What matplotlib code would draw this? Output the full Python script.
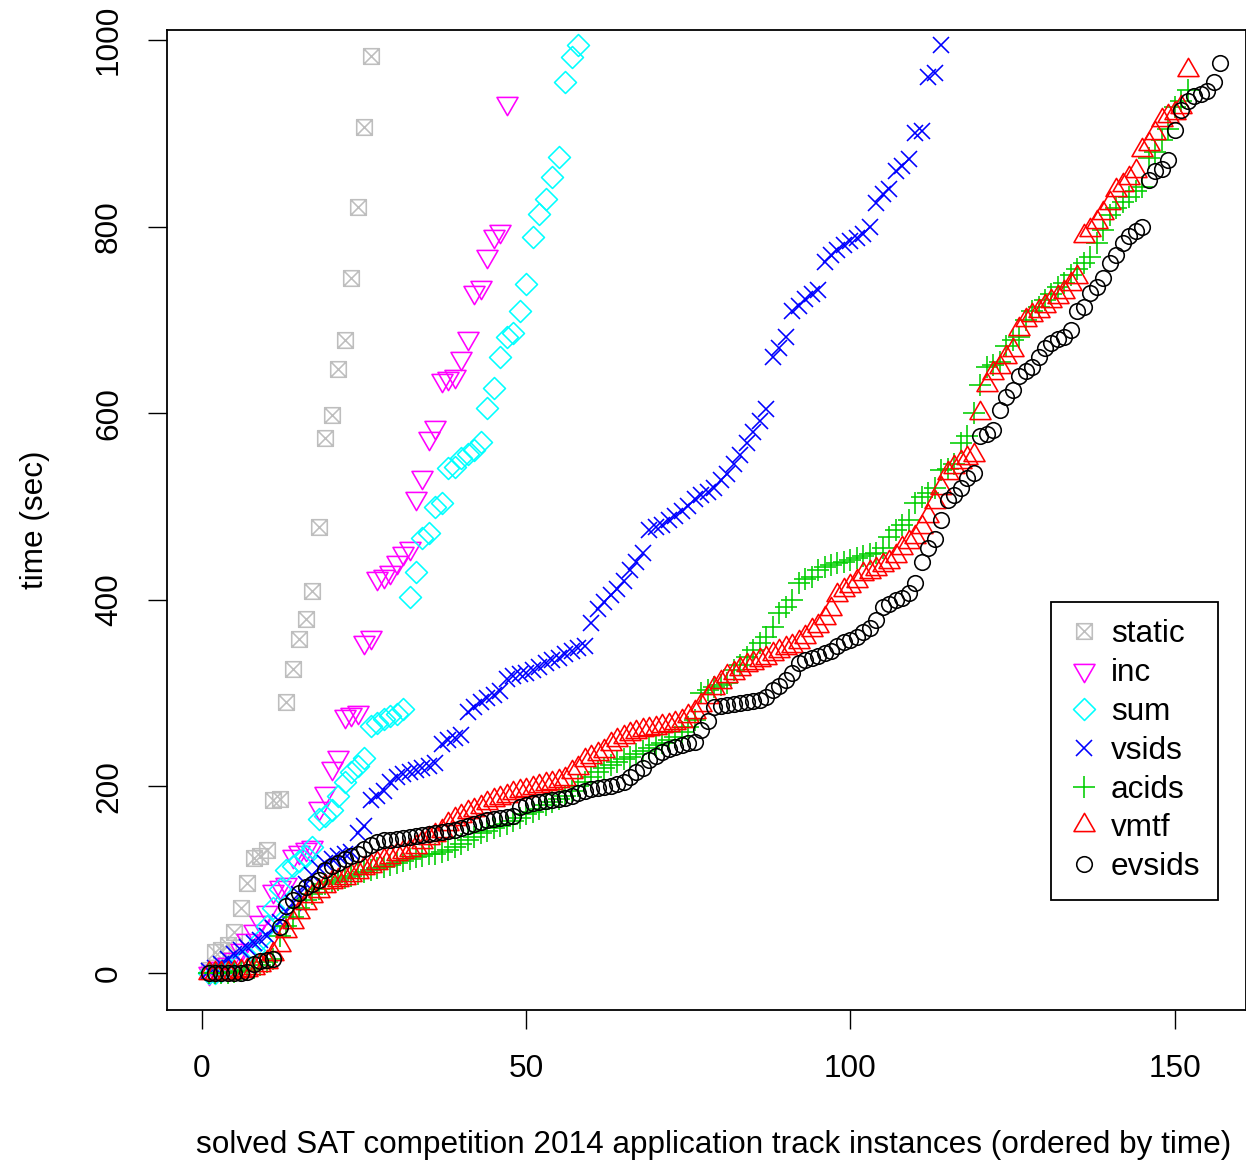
import matplotlib
matplotlib.use("Agg")
import matplotlib.pyplot as plt
import numpy as np
from matplotlib.path import Path

# ---------------- data (sorted solve times, seconds) ----------------
static = [3, 22, 25, 30, 44, 70, 96, 123, 125, 132, 185, 186, 290, 326, 358, 379,
          409, 478, 573, 598, 647, 678, 745, 821, 907, 983]

inc = [0, 2, 5, 10, 15, 25, 35, 45, 55, 65, 88, 92, 95, 125, 130, 133, 135, 177,
       193, 220, 232, 275, 278, 280, 355, 360, 423, 425, 430, 440, 450, 455, 509,
       532, 573, 585, 636, 638, 640, 659, 681, 730, 735, 768, 790, 795, 932]

sum_ = [0, 0, 2, 5, 8, 12, 18, 25, 35, 50, 70, 90, 110, 115, 120, 125, 135, 165,
        168, 175, 190, 205, 215, 222, 230, 265, 268, 272, 275, 278, 283, 403, 430,
        466, 472, 499, 504, 541, 542, 552, 556, 560, 569, 606, 627, 660, 682, 686,
        709, 738, 789, 813, 830, 853, 875, 955, 982, 995]

vsids = [2, 5, 10, 15, 20, 25, 28, 32, 35, 40, 48, 55, 65, 75, 85, 95, 105, 112,
         118, 122, 125, 128, 130, 150, 157, 185, 190, 195, 205, 210, 213, 215, 218,
         220, 222, 225, 245, 250, 252, 255, 280, 285, 290, 295, 298, 302, 315, 318,
         320, 322, 325, 328, 332, 335, 338, 342, 345, 348, 350, 375, 390, 398, 405,
         412, 420, 432, 440, 450, 475, 478, 480, 485, 490, 495, 500, 508, 512, 515,
         520, 528, 535, 545, 555, 568, 580, 592, 605, 660, 670, 682, 710, 715, 722,
         728, 732, 762, 770, 775, 780, 785, 788, 792, 800, 825, 835, 840, 860, 865,
         872, 900, 902, 960, 965, 995]

acids = [0, 0, 0, 0, 1, 2, 3, 5, 8, 12, 15, 40, 50, 60, 70, 78, 85, 90, 95, 98,
         100, 102, 104, 106, 108, 110, 112, 114, 116, 118, 120, 122, 124, 125, 127,
         128, 130, 132, 135, 138, 142, 146, 150, 152, 155, 158, 160, 163, 166, 170,
         173, 176, 180, 183, 186, 190, 195, 200, 205, 210, 215, 220, 223, 226, 229,
         232, 235, 238, 241, 244, 247, 250, 253, 258, 264, 271, 300, 303, 306, 309,
         311, 325, 330, 339, 346, 354, 360, 371, 386, 392, 400, 418, 422, 424, 432,
         435, 437, 439, 441, 443, 445, 447, 449, 450, 456, 467, 475, 480, 486, 504,
         510, 514, 520, 539, 540, 545, 568, 575, 600, 630, 650, 652, 655, 672, 678,
         682, 700, 710, 714, 721, 728, 735, 740, 748, 755, 761, 767, 782, 796, 812,
         820, 826, 832, 838, 842, 874, 880, 893, 905, 928, 935, 946]

vmtf = [0, 0, 0, 0, 1, 2, 3, 5, 8, 12, 20, 30, 45, 55, 65, 75, 82, 88, 93, 97,
        100, 102, 105, 108, 112, 115, 118, 121, 124, 127, 130, 132, 135, 140, 145,
        148, 152, 160, 165, 168, 172, 175, 178, 182, 185, 188, 190, 193, 195, 196,
        198, 200, 202, 204, 206, 208, 215, 220, 228, 232, 235, 238, 245, 250, 253,
        256, 258, 260, 262, 263, 265, 266, 268, 270, 275, 280, 287, 296, 305, 312,
        318, 322, 326, 330, 332, 335, 338, 342, 345, 348, 350, 355, 360, 368, 372,
        380, 390, 405, 410, 415, 420, 428, 430, 433, 437, 440, 447, 455, 462, 467,
        478, 490, 505, 520, 536, 542, 548, 552, 555, 600, 630, 643, 650, 660, 668,
        690, 700, 705, 710, 715, 720, 725, 730, 738, 746, 790, 796, 805, 815, 825,
        839, 845, 852, 860, 882, 888, 900, 914, 918, 922, 928, 968]

evsids = [0, 0, 0, 0, 0, 0, 1, 10, 13, 14, 15, 49, 72, 78, 86, 92, 95, 100, 110,
          115, 118, 122, 125, 128, 133, 137, 140, 142, 143, 144, 145, 146, 147, 148,
          149, 150, 151, 152, 153, 155, 158, 160, 162, 164, 165, 166, 167, 168, 178,
          180, 182, 183, 184, 185, 186, 188, 190, 193, 195, 197, 198, 199, 200, 202,
          205, 210, 215, 220, 228, 233, 237, 240, 242, 244, 246, 248, 260, 270, 285,
          286, 287, 288, 289, 290, 291, 293, 296, 303, 308, 314, 322, 332, 335, 338,
          340, 343, 345, 350, 355, 357, 360, 365, 370, 378, 392, 396, 400, 402, 407,
          418, 440, 455, 465, 486, 507, 512, 520, 530, 536, 575, 578, 582, 603, 617,
          625, 640, 645, 650, 660, 670, 675, 680, 682, 689, 710, 714, 729, 735, 745,
          761, 770, 782, 790, 795, 800, 850, 860, 862, 871, 903, 925, 935, 940, 942,
          945, 955, 975]

names = ["static", "inc", "sum", "vsids", "acids", "vmtf", "evsids"]
series = [static, inc, sum_, vsids, acids, vmtf, evsids]
colors = ["#BEBEBE", "#FF00FF", "#00FFFF", "#0000FF", "#00CD00", "#FF0000", "#000000"]

xticks = [0, 50, 100, 150]
yticks = [0, 200, 400, 600, 800, 1000]

# ---------------- marker shapes (R pch 7,6,5,4,3,2,1) ----------------
M, L, C = Path.MOVETO, Path.LINETO, Path.CLOSEPOLY
sq_x = Path([(-1, -1), (1, -1), (1, 1), (-1, 1), (-1, -1),
             (-1, -1), (1, 1), (-1, 1), (1, -1)],
            [M, L, L, L, C, M, L, M, L])
tri_dn = Path([(0, -1), (-0.866, 0.5), (0.866, 0.5), (0, -1)], [M, L, L, C])
tri_up = Path([(0, 1), (-0.866, -0.5), (0.866, -0.5), (0, 1)], [M, L, L, C])
diam = Path([(0, 1), (1, 0), (0, -1), (-1, 0), (0, 1)], [M, L, L, L, C])

markers = [sq_x, tri_dn, diam, "x", "+", tri_up, "o"]
msizes = [11.2, 17.5, 15.8, 11.2, 15.8, 17.5, 11.2]

plt.rcParams["font.family"] = ["Liberation Sans", "DejaVu Sans"]
FS = 22.7

W, H = 1246, 1164
fig = plt.figure(figsize=(W / 100, H / 100), dpi=100)
ax = fig.add_axes([167 / W, 1 - 1010 / H, (1246 - 167) / W, (1010 - 30) / H])

for name, vals, col, mk, ms in zip(names, series, colors, markers, msizes):
    x = np.arange(1, len(vals) + 1)
    ax.plot(x, vals, linestyle="none", marker=mk, markersize=ms,
            markerfacecolor="none", markeredgecolor=col, markeredgewidth=1.15,
            label=name)

ax.set_xlim(-5.4, 161.0)
ax.set_ylim(-39.7, 1010.7)
ax.set_xticks(xticks)
ax.set_yticks(yticks)
ax.tick_params(axis="both", direction="out", length=14, width=1.0,
               labelsize=FS, color="black")
ax.tick_params(axis="x", pad=18)
ax.tick_params(axis="y", pad=17)
for lab in ax.get_yticklabels():
    lab.set_rotation(90)
    lab.set_va("center")
    lab.set_ha("right")
for sp in ax.spines.values():
    sp.set_linewidth(1.3)
    sp.set_color("black")

fig.text(714 / W, 1 - 1145 / H,
         "solved SAT competition 2014 application track instances (ordered by time)",
         ha="center", va="center", fontsize=FS)
fig.text(35 / W, 1 - 520 / H, "time (sec)", rotation=90,
         ha="center", va="center", fontsize=FS)

leg = ax.legend(loc="upper left", bbox_to_anchor=(1051 / W, 1 - 602 / H),
                bbox_transform=fig.transFigure, borderaxespad=0,
                fontsize=FS, frameon=True, fancybox=False, framealpha=1,
                edgecolor="black", borderpad=0.55, labelspacing=0.28,
                handlelength=1.0, handletextpad=0.35, numpoints=1)
leg.get_frame().set_linewidth(1.3)

fig.savefig("out.png", dpi=100)
